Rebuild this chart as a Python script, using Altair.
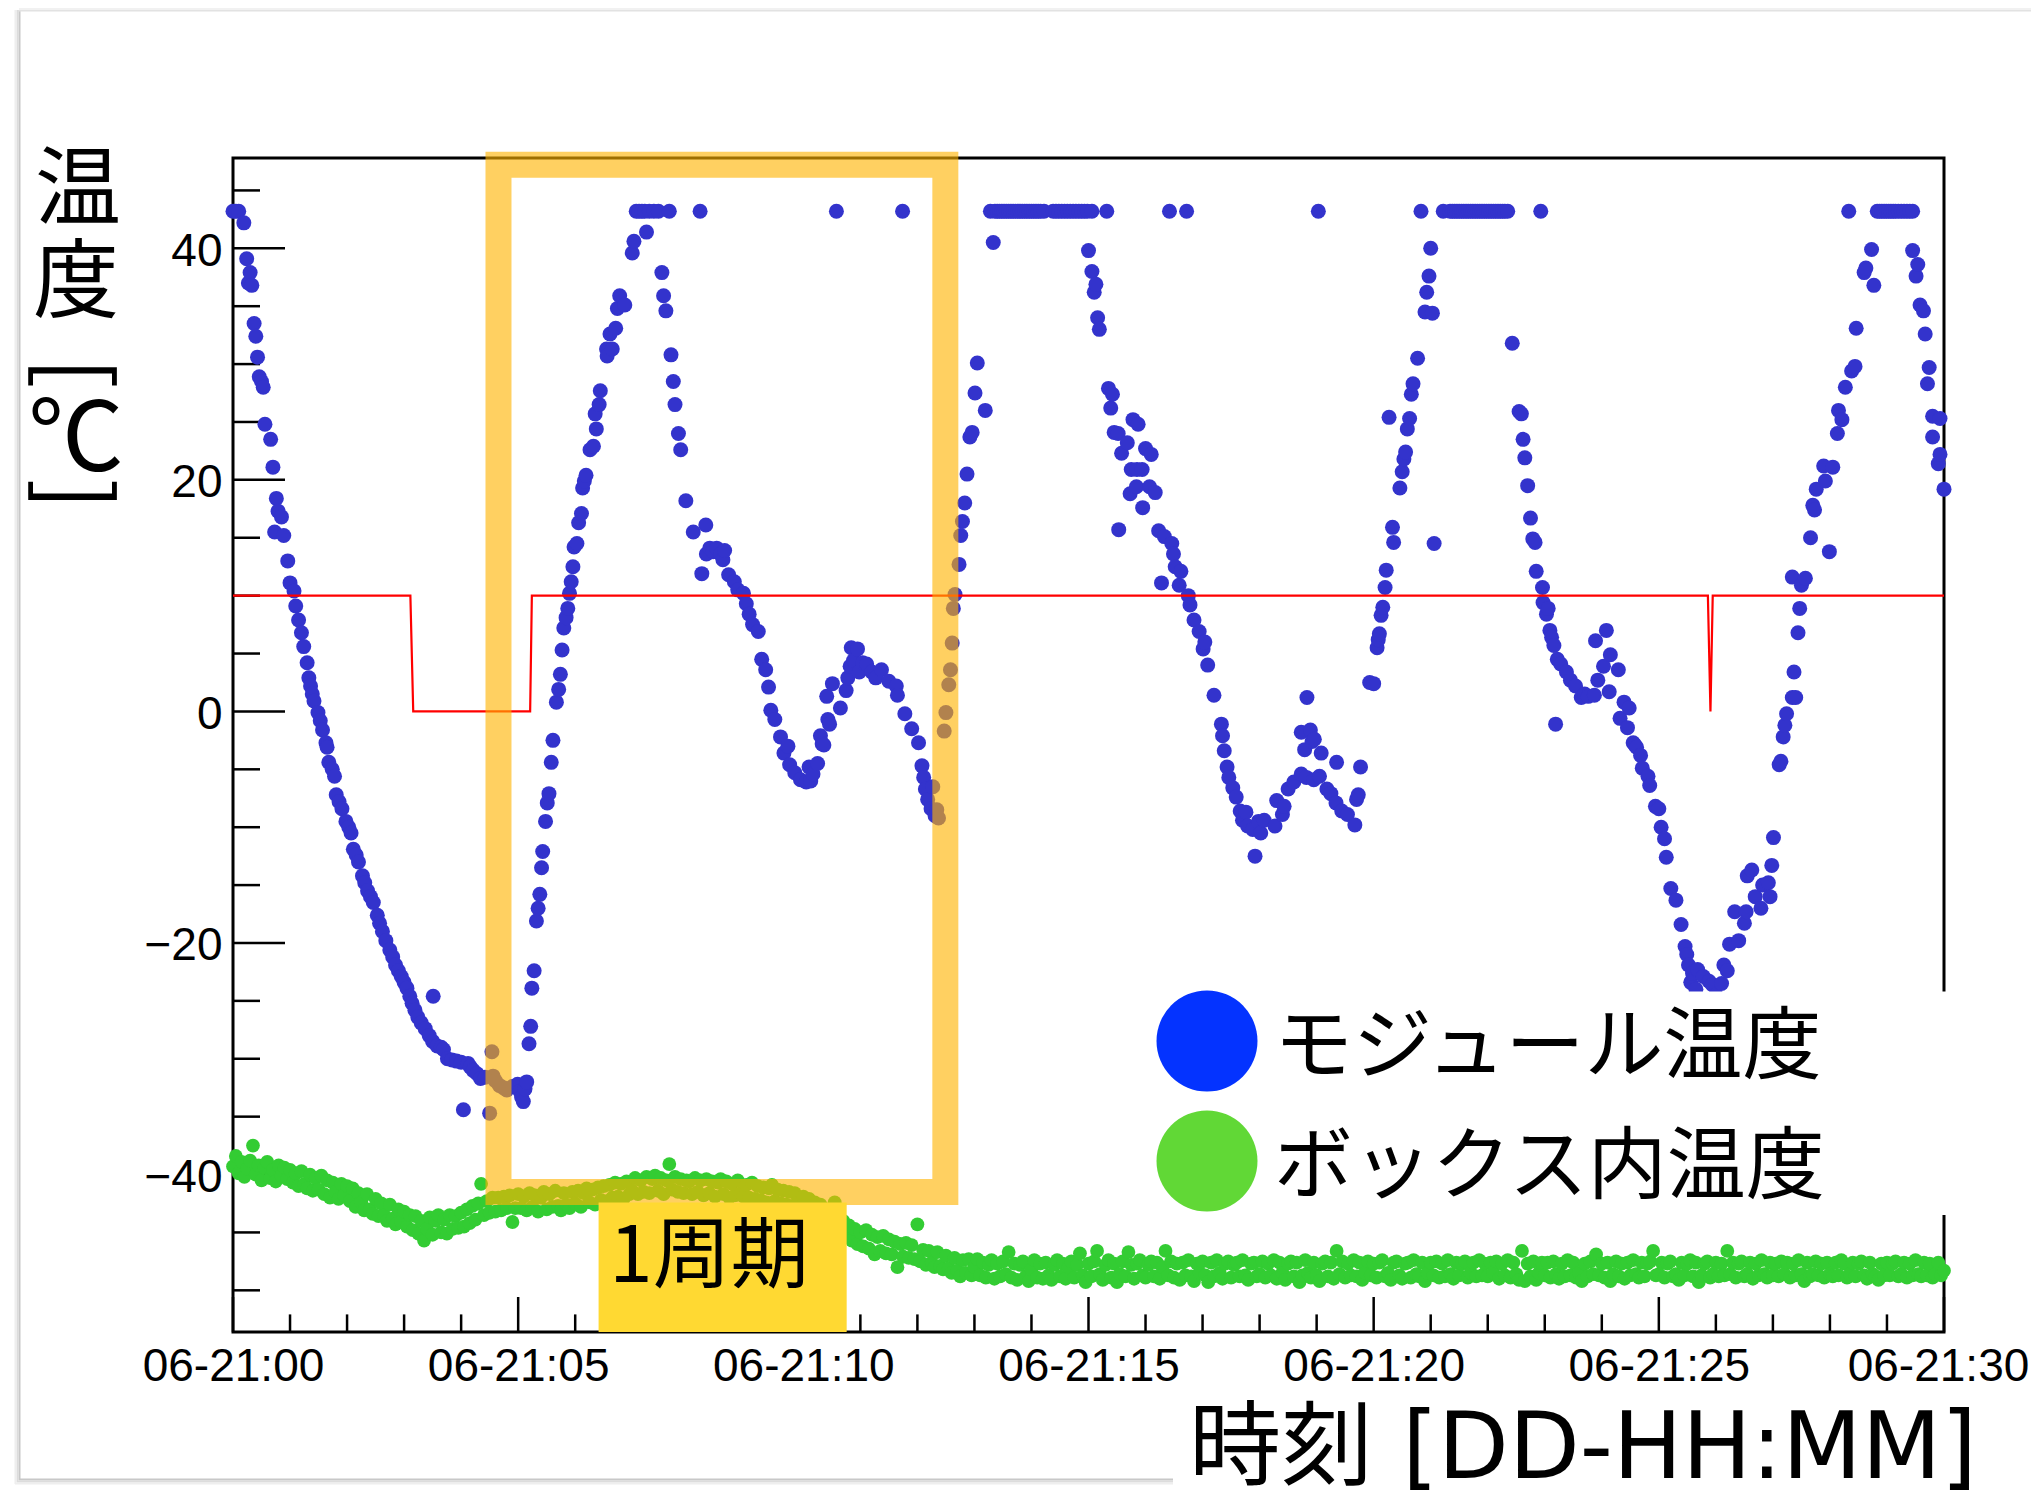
import altair as alt
import pandas as pd

JP = "Noto Sans CJK JP"
LAT = "Liberation Sans"

# ---------------- data (minutes after 06-21:00, degC) ----------------
BLUE = [
(0.00,43.2),(0.05,43.2),(0.10,43.2),(0.19,42.2),(0.24,39.1),(0.27,37.0),(0.30,37.9),(0.33,36.8),(0.37,33.5),(0.40,32.4),
(0.43,30.6),(0.46,28.9),(0.50,28.5),(0.53,28.0),(0.56,24.8),(0.66,23.5),(0.70,21.1),(0.73,15.5),(0.76,18.4),(0.79,17.3),
(0.85,16.8),(0.89,15.2),(0.96,13.0),(1.00,11.1),(1.07,10.4),(1.10,9.1),(1.15,7.9),(1.20,6.8),(1.24,5.6),(1.30,4.2),
(1.33,2.9),(1.36,2.2),(1.39,1.5),(1.42,0.9),(1.49,-0.1),(1.53,-0.8),(1.57,-1.6),(1.63,-2.7),(1.65,-3.1),(1.68,-4.4),
(1.74,-5.0),(1.78,-5.6),(1.81,-7.2),(1.86,-7.8),(1.91,-8.4),(1.98,-9.5),(2.03,-10.0),(2.07,-10.5),(2.11,-11.9),(2.16,-12.4),
(2.20,-13.0),(2.27,-14.2),(2.31,-14.8),(2.36,-15.5),(2.41,-16.0),(2.46,-16.5),(2.53,-17.6),(2.57,-18.3),(2.62,-19.0),(2.68,-19.8),
(2.75,-20.6),(2.80,-21.2),(2.85,-21.9),(2.90,-22.4),(2.95,-22.9),(3.00,-23.4),(3.05,-23.9),(3.10,-24.6),(3.14,-25.2),(3.19,-25.8),
(3.24,-26.4),(3.30,-26.9),(3.37,-27.4),(3.44,-28.0),(3.50,-28.5),(3.51,-24.6),(3.58,-28.9),(3.65,-29.0),(3.69,-29.2),(3.76,-30.0),
(3.84,-30.1),(3.92,-30.2),(4.00,-30.3),(4.04,-34.4),(4.12,-30.4),(4.16,-30.7),(4.21,-31.0),(4.28,-31.3),(4.34,-31.7),(4.42,-31.6),
(4.50,-34.7),(4.54,-29.4),(4.56,-31.5),(4.60,-31.9),(4.67,-32.3),(4.74,-32.5),(4.80,-32.7),(4.90,-32.4),(4.99,-32.2),(5.03,-32.8),
(5.06,-33.3),(5.09,-33.7),(5.12,-32.6),(5.15,-32.0),(5.19,-28.7),(5.22,-27.2),(5.24,-23.9),(5.28,-22.4),(5.32,-18.1),(5.35,-17.0),
(5.38,-15.8),(5.41,-13.5),(5.43,-12.1),(5.48,-9.5),(5.51,-7.9),(5.54,-7.1),(5.58,-4.4),(5.61,-2.5),(5.67,0.8),(5.71,1.9),
(5.74,3.2),(5.77,5.3),(5.80,7.2),(5.84,8.1),(5.87,8.9),(5.90,10.2),(5.93,11.2),(5.96,12.5),(5.98,14.2),(6.03,14.5),
(6.06,16.3),(6.11,17.1),(6.13,19.3),(6.16,19.9),(6.19,20.4),(6.26,22.6),(6.32,22.9),(6.35,25.7),(6.37,24.4),(6.42,26.5),
(6.44,27.7),(6.55,31.3),(6.56,30.7),(6.61,32.6),(6.65,31.3),(6.71,33.1),(6.74,34.8),(6.78,35.9),(6.87,35.1),(7.00,39.6),
(7.03,40.6),(7.07,43.2),(7.12,43.2),(7.17,43.2),(7.22,43.2),(7.25,41.4),(7.30,43.2),(7.38,43.2),(7.46,43.2),(7.52,37.9),
(7.55,35.9),(7.59,34.6),(7.65,43.2),(7.68,30.8),(7.72,28.5),(7.75,26.5),(7.81,24.0),(7.85,22.6),(7.94,18.2),(8.07,15.5),
(8.19,43.2),(8.22,11.9),(8.29,16.1),(8.30,13.6),(8.36,14.1),(8.42,13.8),(8.48,14.1),(8.55,13.6),(8.59,13.1),(8.62,13.9),
(8.69,11.8),(8.79,11.2),(8.85,10.5),(8.95,10.2),(9.00,9.3),(9.05,8.4),(9.11,7.5),(9.21,6.9),(9.27,4.5),(9.34,3.6),
(9.39,2.1),(9.43,0.1),(9.50,-0.7),(9.60,-2.2),(9.66,-3.6),(9.73,-3.0),(9.76,-4.6),(9.85,-5.3),(9.95,-5.9),(10.05,-6.1),
(10.10,-4.8),(10.13,-6.0),(10.17,-5.4),(10.25,-4.5),(10.30,-2.1),(10.33,-2.8),(10.36,-2.9),(10.41,1.3),(10.43,-0.7),(10.46,-1.1),
(10.51,2.4),(10.58,43.2),(10.65,0.3),(10.75,1.8),(10.78,2.9),(10.82,3.9),(10.84,5.5),(10.88,4.4),(10.95,5.4),(10.98,3.4),
(11.04,4.2),(11.11,4.1),(11.20,3.4),(11.27,2.9),(11.37,3.6),(11.50,2.6),(11.63,2.2),(11.65,1.4),(11.74,43.2),(11.78,-0.2),
(11.90,-1.5),(12.02,-2.7),(12.08,-4.7),(12.11,-5.7),(12.14,-6.7),(12.18,-7.6),(12.24,-8.4),(12.27,-6.5),(12.31,-9.0),(12.34,-8.5),
(12.37,-9.2),(12.47,-1.7),(12.50,-0.1),(12.55,2.3),(12.58,3.6),(12.61,5.9),(12.63,8.9),(12.66,10.1),(12.73,12.7),(12.76,15.2),
(12.79,16.4),(12.83,18.0),(12.87,20.5),(12.92,23.7),(12.96,24.1),(13.01,27.5),(13.05,30.1),(13.19,26.0),(13.28,43.2),(13.33,40.5),
(13.36,43.2),(13.40,43.2),(13.44,43.2),(13.48,43.2),(13.52,43.2),(13.56,43.2),(13.60,43.2),(13.64,43.2),(13.68,43.2),(13.72,43.2),
(13.76,43.2),(13.80,43.2),(13.84,43.2),(13.88,43.2),(13.92,43.2),(13.96,43.2),(14.00,43.2),(14.04,43.2),(14.08,43.2),(14.12,43.2),
(14.16,43.2),(14.22,43.2),(14.38,43.2),(14.43,43.2),(14.48,43.2),(14.53,43.2),(14.58,43.2),(14.63,43.2),(14.68,43.2),(14.73,43.2),
(14.78,43.2),(14.83,43.2),(14.88,43.2),(14.93,43.2),(14.98,43.2),(15.00,39.8),(15.06,38.0),(15.06,43.2),(15.10,36.2),(15.13,36.9),
(15.16,34.0),(15.19,33.0),(15.32,43.2),(15.35,27.9),(15.39,26.2),(15.42,27.4),(15.45,24.1),(15.52,24.0),(15.53,15.7),(15.58,22.3),
(15.68,23.2),(15.73,18.8),(15.75,20.9),(15.78,25.2),(15.84,19.4),(15.85,20.9),(15.87,24.8),(15.94,20.9),(15.95,17.6),(16.00,22.7),
(16.07,19.4),(16.10,22.2),(16.17,18.9),(16.23,15.6),(16.28,11.1),(16.33,15.1),(16.42,43.2),(16.46,14.5),(16.49,13.6),(16.52,12.5),
(16.59,10.9),(16.62,12.1),(16.72,43.2),(16.75,10.0),(16.78,9.2),(16.85,7.9),(16.94,6.9),(17.01,5.4),(17.04,6.0),(17.09,4.0),
(17.20,1.4),(17.33,-1.1),(17.35,-2.1),(17.38,-3.4),(17.43,-4.8),(17.46,-5.7),(17.53,-6.6),(17.59,-7.4),(17.66,-8.6),(17.70,-9.4),
(17.76,-8.7),(17.79,-9.9),(17.88,-10.2),(17.92,-12.5),(17.98,-9.5),(18.02,-10.5),(18.08,-9.4),(18.27,-9.9),(18.30,-7.7),(18.40,-8.9),
(18.43,-8.2),(18.50,-6.7),(18.60,-6.1),(18.73,-5.4),(18.73,-1.8),(18.79,-3.3),(18.82,-5.7),(18.83,1.2),(18.89,-1.6),(18.92,-2.6),
(18.95,-5.9),(18.96,-2.4),(19.03,43.2),(19.05,-5.6),(19.08,-3.6),(19.18,-6.7),(19.25,-7.1),(19.34,-7.9),(19.35,-4.4),(19.44,-8.6),
(19.54,-8.9),(19.67,-9.8),(19.70,-7.6),(19.73,-7.2),(19.77,-4.8),(19.93,2.5),(20.00,2.4),(20.06,5.5),(20.08,6.2),(20.10,6.7),
(20.13,8.3),(20.16,9.0),(20.20,10.7),(20.22,12.2),(20.27,25.4),(20.33,15.9),(20.35,14.6),(20.46,19.3),(20.50,20.7),(20.53,21.8),
(20.56,22.4),(20.59,24.4),(20.63,25.3),(20.66,27.4),(20.69,28.3),(20.77,30.5),(20.83,43.2),(20.90,34.5),(20.93,36.2),(20.97,37.6),
(21.00,40.0),(21.03,34.4),(21.06,14.5),(21.22,43.2),(21.34,43.2),(21.38,43.2),(21.42,43.2),(21.46,43.2),(21.50,43.2),(21.54,43.2),
(21.58,43.2),(21.62,43.2),(21.66,43.2),(21.70,43.2),(21.74,43.2),(21.78,43.2),(21.82,43.2),(21.86,43.2),(21.90,43.2),(21.94,43.2),
(21.98,43.2),(22.02,43.2),(22.06,43.2),(22.10,43.2),(22.14,43.2),(22.18,43.2),(22.22,43.2),(22.26,43.2),(22.30,43.2),(22.35,43.2),
(22.43,31.8),(22.55,25.9),(22.59,25.7),(22.62,23.5),(22.65,21.9),(22.70,19.5),(22.75,16.7),(22.79,14.9),(22.83,14.6),(22.85,12.1),
(22.93,43.2),(22.96,10.7),(22.97,9.4),(23.03,8.4),(23.06,8.9),(23.09,7.0),(23.12,6.4),(23.16,5.7),(23.19,-1.1),(23.22,4.5),
(23.28,4.1),(23.38,3.4),(23.45,2.7),(23.54,2.2),(23.64,1.2),(23.70,1.5),(23.76,1.3),(23.87,1.4),(23.89,6.1),(23.93,2.7),
(24.03,3.9),(24.08,7.0),(24.13,1.7),(24.15,4.9),(24.29,3.6),(24.32,-0.6),(24.39,0.8),(24.45,-1.4),(24.48,0.3),(24.55,-2.7),
(24.58,-2.9),(24.61,-3.1),(24.68,-3.8),(24.71,-4.9),(24.81,-5.6),(24.84,-6.4),(24.94,-8.2),(25.00,-8.4),(25.04,-10.0),(25.10,-11.0),
(25.13,-12.6),(25.21,-15.3),(25.30,-16.3),(25.39,-18.4),(25.46,-20.3),(25.49,-21.0),(25.52,-21.9),(25.56,-23.4),(25.59,-22.6),(25.65,-24.0),
(25.68,-22.3),(25.78,-22.9),(25.88,-23.3),(25.94,-23.6),(26.00,-24.5),(26.05,-25.0),(26.10,-23.5),(26.14,-21.9),(26.20,-22.4),(26.24,-20.1),
(26.33,-17.3),(26.40,-19.8),(26.50,-18.3),(26.53,-17.3),(26.55,-14.2),(26.63,-13.7),(26.69,-16.0),(26.79,-17.0),(26.82,-15.0),(26.92,-14.8),
(26.95,-16.0),(26.98,-13.3),(27.01,-10.9),(27.11,-4.6),(27.14,-4.3),(27.18,-2.2),(27.21,-1.2),(27.24,-0.2),(27.34,1.2),(27.34,11.6),
(27.37,3.4),(27.40,1.2),(27.44,6.8),(27.47,8.9),(27.50,10.9),(27.57,11.5),(27.66,15.0),(27.70,17.8),(27.73,17.4),(27.76,19.2),
(27.89,21.2),(27.92,19.9),(27.99,13.8),(28.05,21.1),(28.13,24.0),(28.15,26.0),(28.21,25.2),(28.27,28.0),(28.33,43.2),(28.38,29.4),
(28.44,29.8),(28.46,33.1),(28.60,37.9),(28.63,38.3),(28.73,39.9),(28.77,36.8),(28.83,43.2),(28.87,43.2),(28.91,43.2),(28.95,43.2),
(28.99,43.2),(29.03,43.2),(29.07,43.2),(29.11,43.2),(29.15,43.2),(29.20,43.2),(29.25,43.2),(29.30,43.2),(29.35,43.2),(29.40,43.2),
(29.45,43.2),(29.45,39.8),(29.51,37.6),(29.54,38.6),(29.58,35.1),(29.64,34.6),(29.67,32.6),(29.71,28.3),(29.74,29.7),(29.80,25.5),
(29.80,23.7),(29.90,21.4),(29.93,22.2),(29.93,25.3),(30.00,19.2),
]

# box temperature, one reading every 0.05 min (20 per minute row)
GREEN_STEP = 0.05
GREEN_V = [
-39.3,-38.4,-39.9,-38.9,-40.2,-39.5,-38.8,-37.5,-40.0,-39.2,-40.5,-39.4,-38.9,-40.3,-39.6,-40.6,-39.2,-40.1,-39.4,-40.4,
-39.6,-40.7,-39.9,-41.0,-39.7,-40.8,-41.2,-40.0,-41.4,-40.3,-41.3,-40.1,-41.7,-40.5,-42.0,-40.7,-41.5,-42.1,-40.8,-41.8,
-41.0,-42.3,-41.2,-42.8,-41.6,-42.4,-43.1,-41.7,-43.0,-43.4,-42.1,-43.6,-42.5,-43.5,-44.0,-42.6,-43.8,-44.3,-43.0,-44.1,
-43.2,-44.5,-43.5,-44.8,-43.6,-45.1,-44.0,-45.7,-44.7,-43.7,-45.2,-44.0,-43.5,-45.0,-43.9,-45.1,-43.5,-44.7,-43.6,-44.6,
-43.3,-44.5,-43.0,-44.2,-42.7,-43.9,-42.5,-40.8,-43.5,-42.3,-43.3,-42.0,-43.2,-42.0,-43.1,-41.9,-42.9,-41.8,-44.1,-42.9,
-41.7,-42.9,-41.9,-43.1,-41.6,-42.8,-41.8,-43.2,-42.0,-41.5,-43.0,-41.7,-42.8,-41.4,-42.7,-43.1,-41.6,-42.6,-42.9,-41.5,
-42.5,-41.4,-42.8,-41.6,-41.2,-42.4,-41.3,-42.6,-41.1,-42.2,-41.0,-42.3,-40.9,-42.0,-40.7,-41.9,-40.8,-42.1,-40.6,-41.7,
-41.4,-40.3,-41.7,-40.5,-41.5,-40.2,-41.6,-40.4,-40.1,-41.4,-40.3,-41.7,-40.5,-39.1,-41.3,-40.2,-41.5,-40.4,-41.6,-40.5,
-40.6,-41.7,-40.3,-41.5,-40.5,-41.8,-40.4,-41.6,-40.6,-41.9,-40.7,-40.4,-41.7,-40.6,-42.0,-40.8,-41.8,-40.5,-41.6,-41.9,
-40.9,-42.0,-40.7,-42.1,-41.0,-42.2,-41.1,-42.4,-41.2,-40.9,-42.3,-41.3,-42.5,-41.4,-42.6,-41.5,-42.7,-41.6,-42.5,-42.8,
-41.9,-43.0,-42.1,-43.3,-42.4,-43.6,-42.6,-43.9,-43.0,-44.2,-43.3,-42.4,-43.7,-45.0,-44.0,-45.4,-44.4,-45.7,-44.7,-46.0,
-45.0,-46.2,-44.8,-46.4,-45.2,-46.9,-45.4,-46.6,-45.3,-46.8,-45.6,-46.9,-45.8,-48.0,-46.0,-47.1,-45.9,-47.2,-46.1,-47.3,
-44.3,-47.5,-46.5,-47.8,-46.6,-47.6,-48.0,-46.7,-47.9,-48.2,-47.0,-48.1,-48.5,-47.2,-48.3,-48.8,-47.4,-48.5,-47.3,-48.7,
-48.0,-47.3,-48.7,-47.6,-48.9,-47.8,-47.4,-49.0,-47.7,-48.8,-47.5,-48.6,-46.7,-48.9,-47.7,-49.1,-47.8,-47.5,-48.8,-49.2,
-48.2,-47.4,-48.9,-47.7,-49.0,-47.6,-48.7,-49.1,-47.8,-47.4,-48.8,-47.7,-49.0,-48.0,-47.5,-48.9,-47.8,-46.8,-48.7,-49.3,
-47.7,-48.8,-47.5,-46.6,-48.6,-49.1,-47.8,-47.4,-48.9,-47.7,-49.3,-48.6,-47.5,-48.8,-46.7,-47.8,-49.0,-47.7,-47.4,-48.7,
-48.9,-47.8,-47.5,-48.8,-47.6,-49.0,-48.0,-46.6,-48.7,-47.5,-48.9,-47.7,-49.1,-47.6,-48.7,-47.4,-48.8,-49.2,-47.7,-48.5,
-47.5,-48.7,-49.3,-47.6,-48.8,-47.4,-48.5,-49.0,-47.7,-47.5,-48.9,-47.8,-47.6,-48.8,-47.4,-48.7,-49.1,-47.7,-47.6,-48.8,
-48.6,-47.5,-48.9,-47.7,-48.7,-47.4,-49.0,-47.6,-48.5,-49.1,-47.7,-47.5,-48.8,-47.6,-49.3,-48.7,-47.4,-48.5,-48.9,-47.6,
-48.7,-49.2,-47.7,-47.5,-48.8,-47.6,-49.0,-46.6,-48.6,-47.5,-48.9,-47.7,-48.7,-47.4,-48.8,-47.6,-49.1,-48.5,-47.5,-48.7,
-47.7,-48.9,-47.6,-47.4,-48.8,-48.5,-49.1,-47.6,-47.5,-48.7,-49.0,-47.7,-47.6,-48.9,-47.4,-48.6,-48.8,-47.6,-49.2,-48.5,
-47.6,-48.7,-47.5,-48.9,-47.7,-48.8,-47.4,-48.6,-49.0,-47.6,-48.7,-47.7,-47.5,-48.9,-48.5,-47.6,-48.8,-47.4,-48.7,-47.7,
-48.8,-47.6,-48.5,-47.5,-49.0,-47.7,-48.7,-47.4,-48.9,-47.6,-48.6,-49.1,-46.6,-49.2,-47.7,-48.8,-47.5,-49.1,-48.5,-47.6,
-48.7,-47.6,-48.9,-47.5,-48.6,-49.0,-47.7,-48.8,-47.4,-48.7,-47.6,-48.9,-48.5,-49.2,-47.7,-48.8,-47.5,-48.6,-46.9,-48.7,
-47.7,-48.9,-47.6,-49.2,-48.6,-47.5,-48.8,-47.7,-49.0,-47.6,-48.7,-47.4,-48.6,-48.9,-47.6,-48.8,-47.7,-47.5,-46.6,-48.7,
-48.6,-47.6,-48.9,-47.7,-47.5,-48.8,-48.6,-49.1,-47.6,-48.7,-47.7,-47.4,-48.8,-47.6,-49.3,-48.7,-47.7,-47.5,-48.9,-48.6,
-47.6,-48.8,-47.7,-48.7,-46.6,-48.6,-47.6,-48.9,-47.7,-47.5,-48.8,-48.6,-47.6,-49.0,-47.7,-48.7,-47.4,-48.6,-48.9,-47.6,
-48.7,-47.7,-48.8,-47.5,-48.6,-47.6,-48.9,-47.7,-48.7,-47.4,-48.6,-49.2,-47.6,-48.8,-48.6,-47.5,-48.7,-47.7,-48.9,-47.6,
-48.6,-48.8,-47.6,-48.7,-47.4,-47.7,-48.9,-48.6,-47.6,-48.8,-47.7,-47.5,-48.7,-49.0,-47.6,-48.6,-48.8,-49.1,-47.7,-48.7,
-47.6,-48.7,-47.7,-47.5,-48.8,-48.6,-47.6,-48.9,-47.7,-48.7,-47.4,-48.6,-48.8,-47.6,-48.7,-47.7,-48.9,-48.6,-47.6,-48.7,
-48.3,
]

# set point (red)
RED_T = [0, 3.11, 3.16, 5.21, 5.24, 25.86, 25.905, 25.945, 30]
RED_V = [10, 10, 0, 0, 10, 10, 0, 10, 10]

X_MAJOR = [0, 5, 10, 15, 20, 25, 30]
X_MINOR = [m for m in range(1, 30) if m % 5]
Y_MAJOR = [-40, -20, 0, 20, 40]
Y_MINOR = [-50, -45, -35, -30, -25, -15, -10, -5, 5, 10, 15, 25, 30, 35, 45]

# "one period" highlight box and tag (data units)
BOX = {"t": [4.655], "t2": [12.49], "v": [-41.51], "v2": [47.22]}
TAG = {"t": [6.41], "t2": [10.76], "v": [-53.6], "v2": [-42.42]}
TAG_TEXT = "1周期"
LEGEND_LABELS = ["モジュール温度", "ボックス内温度"]
LEGEND_COLORS = ["#0433FF", "#61D836"]
X_TITLE = "時刻 [DD-HH:MM]"

# ---------------- chart ----------------
W, H = 1711, 1174
xs = alt.Scale(domain=[0, 30], nice=False, zero=False)
ys = alt.Scale(domain=[-53.6, 47.8], nice=False, zero=False)

x_axis = alt.Axis(values=X_MAJOR,
                  labelExpr="'06-21:' + (datum.value < 10 ? '0' : '') + datum.value",
                  labelFont=LAT, labelFontSize=46, labelColor="black", labelPadding=12,
                  labelOffset={"condition": {"test": "datum.value === 30", "value": -6}, "value": 0},
                  labelFlush=False, labelOverlap=False, labelLimit=0, ticks=False, tickSize=0,
                  domain=False, grid=False, title=None)
y_axis = alt.Axis(values=Y_MAJOR, labelFont=LAT, labelFontSize=46, labelColor="black",
                  labelPadding=11, labelOffset=3, labelOverlap=False, labelLimit=0, ticks=False,
                  tickSize=0, domain=False, grid=False, title=None)


def X(f="t"):
    return alt.X(f"{f}:Q", scale=xs, axis=x_axis)


def Y(f="v"):
    return alt.Y(f"{f}:Q", scale=ys, axis=y_axis)


def txt(s, x, y, size, align="center", baseline="middle", angle=0, font=JP):
    kw = dict(fontSize=size, font=font, align=align, baseline=baseline, color="black")
    if angle:
        kw["angle"] = angle
    return alt.Chart(pd.DataFrame({"s": [s]})).mark_text(**kw).encode(
        x=alt.value(x), y=alt.value(y), text="s:N")


def edge(x, x2, y, y2, color, width):
    # soft edge of the pasted screenshot frame
    return alt.Chart(pd.DataFrame({"s": ["e"]})).mark_rule(color=color, strokeWidth=width).encode(
        x=alt.value(x), x2=alt.value(x2), y=alt.value(y), y2=alt.value(y2))


df_blue = pd.DataFrame(BLUE, columns=["t", "v"])
df_green = pd.DataFrame({"t": [round(i * GREEN_STEP, 2) for i in range(len(GREEN_V))], "v": GREEN_V})
df_red = pd.DataFrame({"t": RED_T, "v": RED_V})

ytick_major = alt.Chart(pd.DataFrame({"v": Y_MAJOR})).mark_rule(color="black", strokeWidth=2.5).encode(
    y=Y(), x=alt.value(0), x2=alt.value(52))
ytick_minor = alt.Chart(pd.DataFrame({"v": Y_MINOR})).mark_rule(color="black", strokeWidth=2.5).encode(
    y=Y(), x=alt.value(0), x2=alt.value(27))
xtick_major = alt.Chart(pd.DataFrame({"t": X_MAJOR})).mark_rule(color="black", strokeWidth=2.5).encode(
    x=X(), y=alt.value(H), y2=alt.value(H - 35))
xtick_minor = alt.Chart(pd.DataFrame({"t": X_MINOR})).mark_rule(color="black", strokeWidth=2.5).encode(
    x=X(), y=alt.value(H), y2=alt.value(H - 17.6))

blue = alt.Chart(df_blue).mark_circle(size=225, color="#3333CC", opacity=1).encode(x=X(), y=Y())
green = alt.Chart(df_green).mark_circle(size=190, color="#33CC33", opacity=1).encode(x=X(), y=Y())
red = alt.Chart(df_red).mark_line(color="#FF0000", strokeWidth=2.2).encode(x=X(), y=Y())

box = alt.Chart(pd.DataFrame(BOX)).mark_rect(
    fill="#FFB300", fillOpacity=0, stroke="#FFB300", strokeOpacity=0.62, strokeWidth=26
).encode(x=X("t"), x2=alt.X2("t2"), y=Y("v"), y2=alt.Y2("v2"))
tag = alt.Chart(pd.DataFrame(TAG)).mark_rect(color="#FFD932", opacity=1).encode(
    x=X("t"), x2=alt.X2("t2"), y=Y("v"), y2=alt.Y2("v2"))
tag_text = txt(TAG_TEXT, 476, 1101, 78)

leg_bg = alt.Chart(pd.DataFrame({"s": ["bg"]})).mark_rect(color="white").encode(
    x=alt.value(898), x2=alt.value(1798), y=alt.value(833.5), y2=alt.value(1057))
leg_dots = [
    alt.Chart(pd.DataFrame({"s": [LEGEND_LABELS[i]]})).mark_point(
        shape="circle", filled=True, size=10200, color=LEGEND_COLORS[i], opacity=1, strokeWidth=0
    ).encode(x=alt.value(974), y=alt.value(883 + 120 * i))
    for i in range(2)
]
leg_txt = [txt(LEGEND_LABELS[i], 1041, 891 + 120 * i, 79, align="left") for i in range(2)]

ytitle = [
    txt("温", -155, 34, 86),
    txt("度", -157, 127, 86),
    txt("[", -161.5, 215, 92, angle=90),
    txt("℃", -157, 283, 96),
    txt("]", -161.5, 336, 92, angle=90),
]
xtitle = txt(X_TITLE, 1744, 1320, 92, align="right", baseline="alphabetic",
             font="DejaVu Sans, Noto Sans CJK JP")

frame = [
    edge(-213.5, -213.5, -148, 1322, "#c8c8c8", 2),
    edge(-215.5, -215.5, -148, 1324, "#dcdcdc", 2),
    edge(-217.5, -217.5, -148, 1326, "#eeeeee", 2),
    edge(-214, 1798, -147.5, -147.5, "#e2e2e2", 2),
    edge(-214, 1798, -149.5, -149.5, "#f1f1f1", 2),
    edge(-214, 940, 1321.5, 1321.5, "#c8c8c8", 2),
    edge(-216, 940, 1323.5, 1323.5, "#dcdcdc", 2),
    edge(-218, 940, 1325.5, 1325.5, "#eeeeee", 2),
]

chart = alt.layer(
    *frame,
    ytick_minor, ytick_major, xtick_minor, xtick_major,
    blue, green, red, box, tag, tag_text,
    leg_bg, *leg_dots, *leg_txt, *ytitle, xtitle,
).properties(
    width=W, height=H,
    padding={"left": 225, "top": 150, "right": 87, "bottom": 159},
    autosize=alt.AutoSizeParams(type="none"),
).configure_view(stroke="black", strokeWidth=3)

chart.save("out.html", embed_options={"renderer": "svg", "actions": False})
